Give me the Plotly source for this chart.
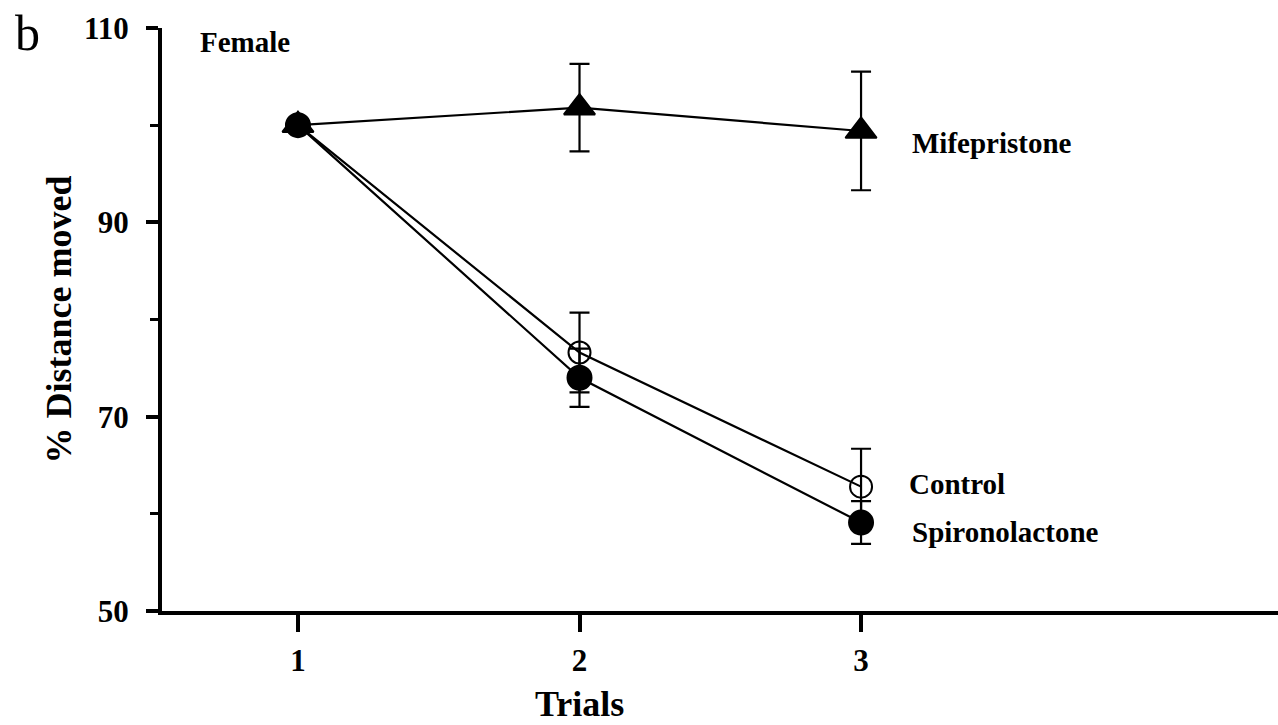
import plotly.graph_objects as go

trials = [1, 2, 3]
control = [100.0, 76.6, 62.8]
control_err = [0.0, 4.1, 3.9]
spiro = [100.0, 74.0, 59.1]
spiro_err = [0.0, 3.0, 2.2]
mife = [100.0, 101.8, 99.4]
mife_err = [0.0, 4.5, 6.1]

FONT = "Liberation Serif"

fig = go.Figure()

def add(y, err, symbol, size):
    fig.add_trace(go.Scatter(
        x=trials, y=y, mode="lines+markers",
        line=dict(color="black", width=2.2),
        marker=dict(symbol=symbol, size=size, color="black",
                    line=dict(color="black", width=2)),
        error_y=dict(type="data", array=err, visible=True, color="black",
                     thickness=2.2, width=10),
        showlegend=False, cliponaxis=False,
    ))

add(mife, mife_err, "triangle-up", 27)
add(control, control_err, "circle-open", 22)
add(spiro, spiro_err, "circle", 24)

W, H = 1278, 725
L, R, T, B = 162, 0, 28, 114
PW, PH = W - L - R, H - T - B

def px_x(px):
    return (px - L) / PW

def px_y(py):
    return (H - B - py) / PH

fig.update_layout(
    width=W, height=H,
    margin=dict(l=L, r=R, t=T, b=B),
    plot_bgcolor="white", paper_bgcolor="white",
    font=dict(family=FONT, color="black"),
    xaxis=dict(
        range=[0.517, 4.481], tickvals=trials, ticktext=[str(t) for t in trials],
        showline=True, linecolor="black", linewidth=4,
        ticks="outside", ticklen=17, tickwidth=4, tickcolor="black",
        showgrid=False, zeroline=False,
        tickfont=dict(family=FONT, size=31, weight="bold"),
        ticklabelstandoff=2,
    ),
    yaxis=dict(
        range=[50, 110], tick0=50, dtick=20,
        showline=True, linecolor="black", linewidth=4,
        ticks="outside", ticklen=12, tickwidth=4, tickcolor="black",
        minor=dict(ticks="outside", ticklen=8, tickwidth=3, tickcolor="black", dtick=10, showgrid=False),
        showgrid=False, zeroline=False,
        tickfont=dict(family=FONT, size=31, weight="bold"),
        ticklabelstandoff=11,
        title=dict(text="<b>% Distance moved</b>", font=dict(family=FONT, size=36), standoff=2),
    ),
    annotations=[
        dict(text="<b>Mifepristone</b>", x=3.174, y=98.2, xref="x", yref="y",
             xanchor="left", yanchor="middle", showarrow=False, font=dict(size=29)),
        dict(text="<b>Control</b>", x=3.163, y=63.1, xref="x", yref="y",
             xanchor="left", yanchor="middle", showarrow=False, font=dict(size=29)),
        dict(text="<b>Spironolactone</b>", x=3.174, y=58.1, xref="x", yref="y",
             xanchor="left", yanchor="middle", showarrow=False, font=dict(size=29)),
        dict(text="<b>Female</b>", x=0.645, y=108.6, xref="x", yref="y",
             xanchor="left", yanchor="middle", showarrow=False, font=dict(size=29)),
        dict(text="<b>Trials</b>", x=2, y=px_y(704), xref="x", yref="paper",
             xanchor="center", yanchor="middle", showarrow=False, font=dict(size=36)),
        dict(text="b", x=px_x(13), y=px_y(33), xref="paper", yref="paper",
             xanchor="left", yanchor="middle", showarrow=False, font=dict(size=50)),
    ],
)

fig.write_html("out.html")
